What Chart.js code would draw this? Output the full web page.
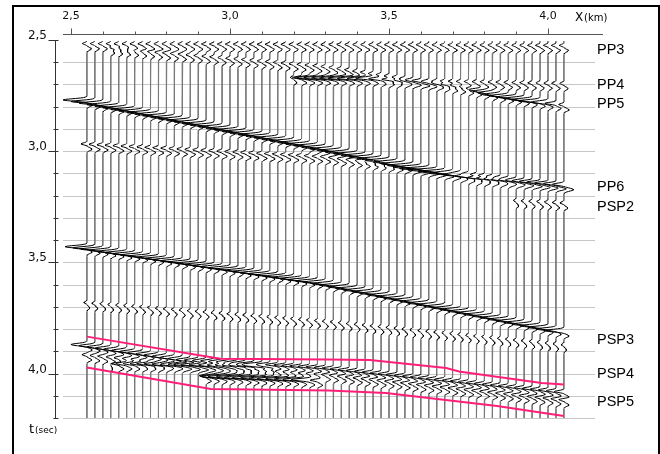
<!DOCTYPE html>
<html>
<head>
<meta charset="utf-8">
<script src="https://cdn.jsdelivr.net/npm/chart.js@4.4.1/dist/chart.umd.min.js"></script>
<style>
  html, body { margin: 0; padding: 0; background: #fff; }
  #wrap { width: 660px; height: 454px; position: relative; }
</style>
</head>
<body>
<div id="wrap"><canvas id="c" width="660" height="454"></canvas></div>
<script>
// ---- receiver line (offset in km) and record window (two-way time in s) ----
const receiverFirst = 2.55;
const receiverStep = 0.025;
const receiverCount = 61;
const recordStart = 2.505;
const recordEnd = 4.2;

// ---- axis ticks ----
const xTickValues = [2.5, 3.0, 3.5, 4.0];
const xMinorTicks = [2.5, 2.6, 2.7, 2.8, 2.9, 3.0, 3.1, 3.2, 3.3, 3.4, 3.5, 3.6, 3.7, 3.8, 3.9, 4.0];
const yTickValues = [2.5, 3.0, 3.5, 4.0];
const yMinorTicks = [2.5, 2.6, 2.7, 2.8, 2.9, 3.0, 3.1, 3.2, 3.3, 3.4, 3.5, 3.6, 3.7, 3.8, 3.9, 4.0, 4.1, 4.2];
const gridTimes = [2.6, 2.7, 2.8, 2.9, 3.0, 3.1, 3.2, 3.3, 3.4, 3.5, 3.6, 3.7, 3.8, 3.9, 4.0, 4.1, 4.2];

// ---- picked reflection events: offsets (km), times (s), wiggle amplitude (km) ----
const eventX = [
  [2.55, 4.05],                              // first arrivals
  [2.62, 3.31, 3.75, 3.85, 3.98, 4.05],      // shallow dipping event
  [3.2, 3.28, 3.45, 3.52, 4.05],             // PP4
  [2.55, 3.31, 3.69, 3.78, 4.05],            // PP5 -> PP6
  [2.55, 3.31, 4.05],                        // event near 3.0 s
  [3.9, 4.05],                               // PSP2
  [2.55, 3.31, 4.05],                        // strong event near 3.5 s -> PSP3
  [2.55, 3.31, 4.05],                        // weak event near 3.7 s
  [2.55, 2.87, 3.31, 4.05],                  // PSP4
  [2.62, 2.66, 3.1, 3.15],                   // flat bright spot
  [2.9, 2.98, 3.25, 3.3],                    // lower bright spot
  [2.55, 3.0, 3.31, 4.05]                    // PSP5
];
const eventT = [
  [2.516, 2.524],
  [2.535, 2.62, 2.715, 2.745, 2.775, 2.79],
  [2.668, 2.670, 2.672, 2.68, 2.695],
  [2.7695, 2.985, 3.097, 3.12, 3.147],
  [2.967, 3.025, 3.151],
  [3.222, 3.232],
  [3.4296, 3.591, 3.807],
  [3.681, 3.766, 3.87],
  [3.8697, 3.937, 3.973, 4.081],
  [3.955, 3.955, 3.964, 3.969],
  [4.009, 4.013, 4.027, 4.031],
  [3.915, 3.973, 4.004, 4.117]
];
const eventAmp = [
  [0.014, 0.014],
  [0.012, 0.014, 0.016, 0.057, 0.069, 0.016],
  [0.01, 0.069, 0.069, 0.013, 0.013],
  [0.075, 0.075, 0.075, 0.03, 0.02],
  [0.018, 0.016, 0.02],
  [0.008, 0.012],
  [0.069, 0.069, 0.063],
  [0.009, 0.009, 0.008],
  [0.05, 0.044, 0.035, 0.03],
  [0, 0.05, 0.05, 0],
  [0, 0.069, 0.069, 0],
  [0.015, 0.02, 0.02, 0.018]
];

// ---- horizon labels on the right (s) ----
const horizonNames = ['PP3', 'PP4', 'PP5', 'PP6', 'PSP2', 'PSP3', 'PSP4', 'PSP5'];
const horizonT = [2.545, 2.702, 2.79, 3.16, 3.252, 3.85, 4.004, 4.13];

// ---- analysis window (magenta) ----
const windowTopX = [2.55, 2.97, 3.31, 3.44, 3.68, 3.72, 3.98, 4.05];
const windowTopT = [3.834, 3.933, 3.937, 3.939, 3.975, 3.991, 4.043, 4.049];
const windowBaseX = [2.55, 2.94, 3.31, 3.49, 3.84, 4.05];
const windowBaseT = [3.973, 4.070, 4.076, 4.088, 4.146, 4.191];

// ---- axis ranges ----
const X_MIN = 2.4497, X_MAX = 4.173;
const T_MIN = 2.473, T_MAX = 4.2;
const SAMPLE_DT = 0.002;

function lerpPick(xs, vs, x) {
  for (let k = 0; k < xs.length - 1; k++) {
    if (x >= xs[k] - 1e-9 && x <= xs[k + 1] + 1e-9) {
      const f = (x - xs[k]) / (xs[k + 1] - xs[k]);
      return vs[k] + f * (vs[k + 1] - vs[k]);
    }
  }
  return null;
}

// trough followed by a smaller peak: the wiggle of one event on one trace
function wavelet(tau, amp) {
  const w = amp > 0.04 ? 0.0075 : 0.006;
  const trough = -amp * Math.exp(-Math.pow(tau / w, 2));
  const peak = Math.min(amp, 0.016) * Math.exp(-Math.pow((tau - 0.024) / 0.009, 2));
  return trough + peak;
}

function buildTrace(x0) {
  const picks = [];
  for (let e = 0; e < eventX.length; e++) {
    const te = lerpPick(eventX[e], eventT[e], x0);
    if (te === null) continue;
    const a = lerpPick(eventX[e], eventAmp[e], x0);
    if (a > 0) picks.push([te, a]);
  }
  const n = Math.round((recordEnd - recordStart) / SAMPLE_DT);
  const pts = [];
  for (let s = 0; s <= n; s++) {
    const t = recordStart + s * SAMPLE_DT;
    let d = 0;
    for (const [te, a] of picks) d += wavelet(t - te, a);
    pts.push({ x: x0 + d, y: t });
  }
  return pts;
}

const datasets = [];
datasets.push({
  data: windowTopX.map((x, i) => ({ x, y: windowTopT[i] })),
  borderColor: '#ff1f78', borderWidth: 2, pointRadius: 0, tension: 0, order: -1
});
datasets.push({
  data: windowBaseX.map((x, i) => ({ x, y: windowBaseT[i] })),
  borderColor: '#ff1f78', borderWidth: 2, pointRadius: 0, tension: 0, order: -1
});
for (let i = 0; i < receiverCount; i++) {
  const x0 = receiverFirst + i * receiverStep;
  datasets.push({
    data: buildTrace(x0),
    borderColor: '#000', borderWidth: 1, pointRadius: 0, tension: 0,
    // the undisturbed part of a trace is drawn grey, the wiggles black
    segment: {
      borderColor: c => (Math.abs(c.p0.parsed.x - x0) > 0.0015 || Math.abs(c.p1.parsed.x - x0) > 0.0015) ? '#000' : '#7a7a7a'
    }
  });
}

const fmt = v => v.toFixed(1).replace('.', ',');

const framePlugin = {
  id: 'seismicFrame',
  beforeDatasetsDraw(chart) {
    const { ctx, chartArea, scales } = chart;
    const ys = scales.y;
    ctx.save();
    ctx.strokeStyle = '#c6c6c6';
    ctx.lineWidth = 1;
    ctx.beginPath();
    for (const t of gridTimes) {
      const y = Math.round(ys.getPixelForValue(t)) + 0.5;
      ctx.moveTo(chartArea.left + 8, y);
      ctx.lineTo(chartArea.right - 8, y);
    }
    ctx.stroke();
    ctx.restore();
  },
  afterDraw(chart) {
    const { ctx, chartArea, scales } = chart;
    const xs = scales.x, ys = scales.y;
    ctx.save();
    // top offset axis
    ctx.strokeStyle = '#555';
    ctx.lineWidth = 1;
    ctx.beginPath();
    const ax = Math.round(chartArea.top) + 0.5;
    ctx.moveTo(chartArea.left + 8, ax);
    ctx.lineTo(chartArea.right, ax);
    for (const v of xMinorTicks) {
      const px = Math.round(xs.getPixelForValue(v)) + 0.5;
      const len = xTickValues.some(m => Math.abs(m - v) < 1e-6) ? 6 : 3;
      ctx.moveTo(px, ax);
      ctx.lineTo(px, ax - len);
    }
    ctx.stroke();
    // left time axis
    ctx.strokeStyle = '#333';
    ctx.beginPath();
    const ay = Math.round(chartArea.left) + 0.5;
    ctx.moveTo(ay, ys.getPixelForValue(2.5));
    ctx.lineTo(ay, ys.getPixelForValue(4.2));
    for (const v of yMinorTicks) {
      const py = Math.round(ys.getPixelForValue(v)) + 0.5;
      const major = yTickValues.some(m => Math.abs(m - v) < 1e-6);
      ctx.moveTo(major ? ay - 7 : ay - 2, py);
      ctx.lineTo(ay + 3, py);
    }
    ctx.stroke();
    // horizon names
    ctx.fillStyle = '#000';
    ctx.font = '14.5px "Liberation Sans", Arial, sans-serif';
    ctx.textBaseline = 'middle';
    ctx.textAlign = 'left';
    horizonNames.forEach((name, i) => {
      ctx.fillText(name, chartArea.right - 6, ys.getPixelForValue(horizonT[i]));
    });
    // axis titles
    ctx.textBaseline = 'alphabetic';
    ctx.font = '12px "DejaVu Sans", sans-serif';
    ctx.fillText('X', 575, 21);
    ctx.font = '10px "DejaVu Sans", sans-serif';
    ctx.fillText('(km)', 584, 21);
    ctx.font = '13px "DejaVu Sans", sans-serif';
    ctx.fillText('t', 29, 433);
    ctx.font = '9px "DejaVu Sans", sans-serif';
    ctx.fillText('(sec)', 35, 433);
    // outer frame
    ctx.strokeStyle = '#000';
    ctx.lineWidth = 2;
    ctx.beginPath();
    ctx.moveTo(13, 470);
    ctx.lineTo(13, 6);
    ctx.lineTo(659, 6);
    ctx.lineTo(659, 470);
    ctx.stroke();
    ctx.restore();
  }
};

new Chart(document.getElementById('c'), {
  type: 'line',
  data: { datasets },
  options: {
    responsive: false,
    animation: false,
    events: [],
    layout: { padding: { left: 0, top: 0, right: 57, bottom: 36 } },
    plugins: { legend: { display: false }, tooltip: { enabled: false } },
    elements: { line: { tension: 0 } },
    scales: {
      x: {
        type: 'linear', position: 'top', min: X_MIN, max: X_MAX,
        grid: { display: false, drawTicks: false }, border: { display: false },
        afterBuildTicks: s => { s.ticks = xTickValues.map(v => ({ value: v })); },
        afterFit: s => { s.height = 34; },
        ticks: {
          autoSkip: false, maxRotation: 0, padding: 11, color: '#111',
          font: { family: 'DejaVu Sans', size: 11 },
          callback: v => fmt(v)
        }
      },
      y: {
        type: 'linear', reverse: true, min: T_MIN, max: T_MAX,
        grid: { display: false, drawTicks: false }, border: { display: false },
        afterBuildTicks: s => { s.ticks = yTickValues.map(v => ({ value: v })); },
        afterFit: s => { s.width = 55; },
        ticks: {
          autoSkip: false, padding: 8, labelOffset: -4, color: '#111',
          font: { family: 'DejaVu Sans', size: 12 },
          callback: v => fmt(v)
        }
      }
    }
  },
  plugins: [framePlugin]
});
</script>
</body>
</html>
